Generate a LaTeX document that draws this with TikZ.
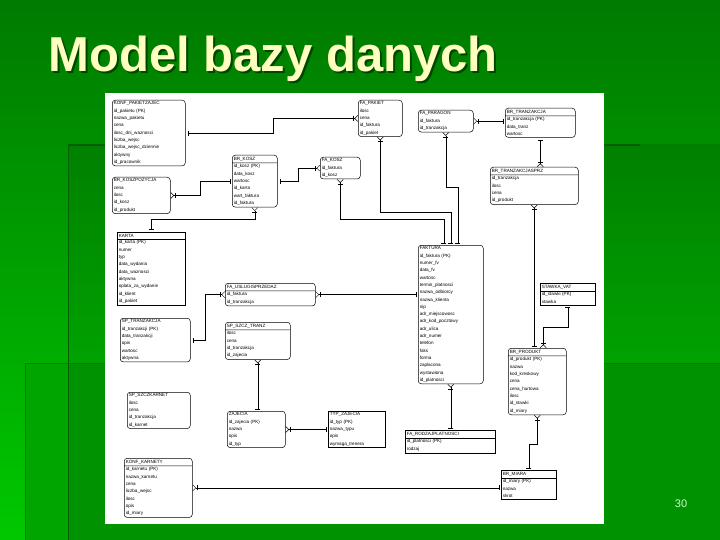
\documentclass[tikz,border=0pt]{standalone}
\usepackage{fontspec}
\setmainfont{Liberation Sans}
\usetikzlibrary{positioning,arrows.meta,calc,shapes.multipart}

\definecolor{bgtop}{RGB}{0,122,0}
\definecolor{bgbot}{RGB}{0,200,0}
\definecolor{paneltop}{RGB}{0,128,0}
\definecolor{panelbot}{RGB}{0,162,0}
\definecolor{lowpanel}{RGB}{0,146,0}
\definecolor{lowleft}{RGB}{0,165,0}
\definecolor{rule}{RGB}{0,95,0}
\definecolor{titleyellow}{RGB}{255,255,192}
\definecolor{titleshade}{RGB}{0,70,0}
\definecolor{numgreen}{RGB}{200,255,200}

\begin{document}
\begin{tikzpicture}[x=1pt,y=-1pt,
  ent/.style={draw,anchor=north west,align=left,inner sep=1.5pt,line width=0.5pt,font=\fontsize{4.6}{7.3}\selectfont},
  rent/.style={ent,rounded corners=3pt},
  sent/.style={ent,rectangle split,rectangle split parts=2},
  rsent/.style={sent,rounded corners=3pt},
  onemany/.style={line width=0.5pt,{Bar[width=5pt,sep=2pt]}-{Bar[width=5pt,sep=1pt]Straight Barb[reversed,length=3pt,width=6pt]}},
  manyone/.style={line width=0.5pt,{Straight Barb[reversed,length=3pt,width=6pt]Bar[width=5pt,sep=1pt]}-{Bar[width=5pt,sep=2pt]}}]
\useasboundingbox (0,0) rectangle (720,540);

% slide background
\shade[top color=bgtop,bottom color=bgbot] (0,0) rectangle (720,540);
\shade[top color=paneltop,bottom color=panelbot] (68,145) rectangle (720,363);
\fill[lowleft] (25,363) rectangle (68,540);
\fill[lowpanel] (68,363) rectangle (720,540);
\draw[rule,line width=1.5pt] (68,145) -- (640,145);
\draw[rule,line width=1pt] (68,145) -- (68,540);
\draw[rule!80!green,line width=0.6pt] (25,363) -- (720,363);
\draw[rule!80!green,line width=0.6pt] (25,363) -- (25,540);

% title
\node[anchor=base west,text=titleshade,font=\fontsize{49}{50}\selectfont\bfseries] (titleshadow) at (47,74) {Model bazy danych};
\node[anchor=base west,text=titleyellow,font=\fontsize{49}{50}\selectfont\bfseries] (title) at (45,72) {Model bazy danych};
\node[text=numgreen,font=\fontsize{11}{12}\selectfont] (pnum) at (681,504) {30};

% diagram sheet
\fill[white] (105,93) rectangle (604,524);

% entities
\node[rent,text width=70pt] (kp) at (112,100) {KONF\_PAKIETZAJEC\\id\_pakietu (PK)\\nazwa\_pakietu\\cena\\ilosc\_dni\_waznosci\\liczba\_wejsc\\liczba\_wejsc\_dziennie\\aktywny\\id\_pracownik};
\node[rent,text width=55pt] (bkp) at (112,177) {BR\_KOSZPOZYCJA\\cena\\ilosc\\id\_kosz\\id\_produkt};
\node[rsent,text width=42pt] (bk) at (232,155) {BR\_KOSZ\nodepart{two}id\_kosz (PK)\\data\_kosz\\wartosc\\id\_karta\\wart\_faktura\\id\_faktura};
\node[rent,text width=37pt] (fk) at (320,157) {FA\_KOSZ\\id\_faktura\\id\_kosz};
\node[rent,text width=41pt] (fpk) at (358,100) {FA\_PAKIET\\ilosc\\cena\\id\_faktura\\id\_pakiet};
\node[rent,text width=52pt] (fpr) at (418,110) {FA\_PARAGON\\id\_faktura\\id\_tranzakcja};
\node[rsent,text width=67pt] (bt) at (505,108) {BR\_TRANZAKCJA\nodepart{two}id\_tranzakcja (PK)\\data\_tranz\\wartosc};
\node[rsent,text width=85pt] (bts) at (490,167) {BR\_TRANZAKCJASPRZ\nodepart{two}id\_tranzakcja\\ilosc\\cena\\id\_produkt};
\node[sent,text width=65pt] (kar) at (117,232) {KARTA\nodepart{two}id\_karta (PK)\\numer\\typ\\data\_wydania\\data\_waznosci\\aktywna\\oplata\_za\_wydanie\\id\_klient\\id\_pakiet};
\node[rsent,text width=87pt] (fu) at (225,283) {FA\_USLUGISPRZEDAZ\nodepart{two}id\_faktura\\id\_tranzakcja};
\node[rent,text width=67pt] (st) at (120,318) {SP\_TRANZAKCJA\\id\_tranzakcji (PK)\\data\_tranzakcji\\opis\\wartosc\\aktywna};
\node[rsent,text width=62pt] (ss) at (225,322) {SP\_SZCZ\_TRANZ\nodepart{two}ilosc\\cena\\id\_tranzakcja\\id\_zajecia};
\node[rent,text width=62pt] (fa) at (418,245) {FAKTURA\\id\_faktura (PK)\\numer\_fv\\data\_fv\\wartosc\\termin\_platnosci\\nazwa\_odbiorcy\\nazwa\_klienta\\nip\\adr\_miejscowosc\\adr\_kod\_pocztowy\\adr\_ulica\\adr\_numer\\telefon\\faks\\forma\\zaplacona\\wystawiona\\id\_platnosci};
\node[sent,text width=52pt] (sv) at (540,283) {STAWKA\_VAT\nodepart{two}id\_stawki (PK)\\stawka};
\node[rsent,text width=55pt] (pr) at (508,348) {BR\_PRODUKT\nodepart{two}id\_produkt (PK)\\nazwa\\kod\_kreskowy\\cena\\cena\_hurtowa\\ilosc\\id\_stawki\\id\_miary};
\node[rent,text width=60pt] (sk) at (127,392) {SP\_SZCZKARNET\\ilosc\\cena\\id\_tranzakcja\\id\_karnet};
\node[rent,text width=55pt] (za) at (227,411) {ZAJECIA\\id\_zajecia (PK)\\nazwa\\opis\\id\_typ};
\node[ent,text width=54pt] (tz) at (328,411) {TYP\_ZAJECIA\\id\_typ (PK)\\nazwa\_typu\\opis\\wymaga\_trenera};
\node[rsent,text width=65pt] (kk) at (124,458) {KONF\_KARNETY\nodepart{two}id\_karnetu (PK)\\nazwa\_karnetu\\cena\\liczba\_wejsc\\ilosc\\opis\\id\_miary};
\node[sent,text width=87pt] (rp) at (405,430) {FA\_RODZAJPLATNOSCI\nodepart{two}id\_platnosci (PK)\\rodzaj};
\node[sent,text width=52pt] (bm) at (501,470) {BR\_MIARA\nodepart{two}id\_miary (PK)\\nazwa\\skrot};

% relations
\draw[onemany] (kp.east) -- ++(88,0) |- (fpk.west);
\draw[manyone] (bkp.east) -- ++(30,0) |- (bk.west);
\draw[onemany] (bk.east) -- ++(21,0) |- (fk.west);
\draw[manyone] (bk.south) -- ++(0,12) -| (kar.north);
\draw[manyone] (fk.south) -- ++(0,40) -| ($(fa.north)+(-7,0)$);
\draw[manyone] (fpk.south) -- ++(0,75) -| (fa.north);
\draw[manyone] (fpr.south) -- ++(0,55) -| ($(fa.north)+(7,0)$);
\draw[manyone] (fpr.east) -- (fpr.east -| bt.west);
\draw[onemany] (bt.south) -- (bt.south |- bts.north);
\draw[manyone] (bts.south) -- (bts.south |- pr.north);
\draw[onemany] (sv.south) -- ++(0,22) -| ($(pr.north)+(6,0)$);
\draw[manyone] (fu.east) -- (fu.east -| fa.west);
\draw[onemany] (st.east) -- ++(15,0) |- (fu.west);
\draw[manyone] (ss.south) -- (ss.south |- za.north);
\draw[manyone] (za.east) -- (za.east -| tz.west);
\draw[manyone] (fa.south) -- (fa.south |- rp.north);
\draw[manyone] (kk.east) -- (kk.east -| bm.west);
\draw[onemany] (bm.north) -- ++(0,-26) -| (pr.south);
\end{tikzpicture}
\end{document}
